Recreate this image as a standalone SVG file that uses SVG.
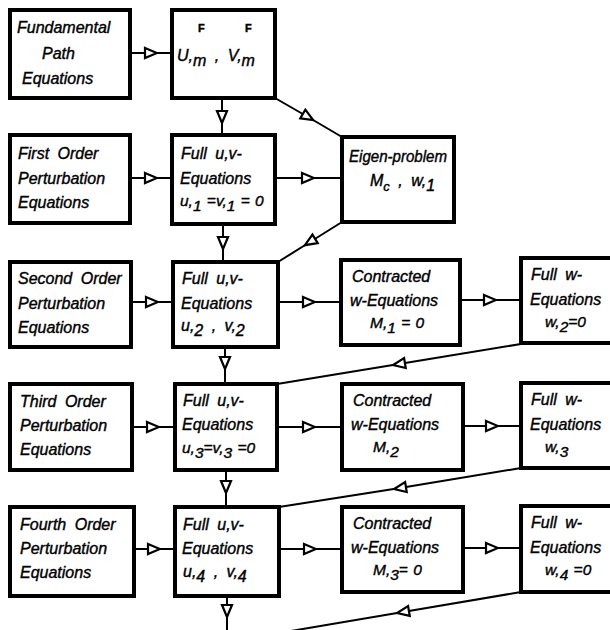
<svg xmlns="http://www.w3.org/2000/svg" width="610" height="630" viewBox="0 0 610 630">
<style>
.box{fill:#fff;stroke:#000;stroke-width:4}
.con{fill:none;stroke:#000;stroke-width:2;marker-mid:url(#tri)}
text{font-family:"Liberation Sans",Arial,sans-serif;font-style:italic;font-size:16px;fill:#000;stroke:#000;stroke-width:0.4;word-spacing:4px}
.m{word-spacing:1px;font-size:15.5px}
.sup{font-size:11px;font-weight:bold;font-style:normal}
</style>
<defs>
<marker id="tri" viewBox="0 0 16 14" refX="8" refY="7" markerWidth="16" markerHeight="14" markerUnits="userSpaceOnUse" orient="auto">
<path d="M2,2 L14,7 L2,12 Z" fill="#fff" stroke="#000" stroke-width="2.2"/>
</marker>
</defs>
<rect width="610" height="630" fill="#fff"/>
<g id="connectors">
<path class="con" d="M130,53 L151,53 L172,53"/>
<path class="con" d="M222,98 L222,117 L222,135"/>
<path class="con" d="M275,98 L308,117 L342,137"/>
<path class="con" d="M130,178 L151,178 L172,178"/>
<path class="con" d="M275,178 L308,178 L342,178"/>
<path class="con" d="M223,224 L223,243 L223,262"/>
<path class="con" d="M342,222 L310,242 L278,262"/>
<path class="con" d="M131,302 L152,302 L173,302"/>
<path class="con" d="M278,302 L309,302 L341,302"/>
<path class="con" d="M460,300 L490,300 L521,300"/>
<path class="con" d="M521,344 L399,364 L277,384"/>
<path class="con" d="M225,347 L225,363 L225,384"/>
<path class="con" d="M132,427 L153,427 L175,427"/>
<path class="con" d="M277,427 L309,427 L342,427"/>
<path class="con" d="M463,426 L492,426 L521,426"/>
<path class="con" d="M521,468 L400,488 L279,507"/>
<path class="con" d="M226,470 L226,487 L226,507"/>
<path class="con" d="M134,549 L154,549 L175,549"/>
<path class="con" d="M279,549 L310,549 L342,549"/>
<path class="con" d="M463,548 L492,548 L521,548"/>
<path class="con" d="M521,592 L403,612 L285,632"/>
<path class="con" d="M227,596 L227,611 L227,632"/>
</g>
<g id="n_fund">
<rect class="box" x="10" y="10" width="120" height="88"/>
<text x="17" y="33">Fundamental</text>
<text x="42" y="59">Path</text>
<text x="22" y="84">Equations</text>
</g>
<g id="n_uv_m">
<rect class="box" x="172" y="10" width="103" height="88"/>
<text class="sup" x="198" y="32">F</text>
<text class="sup" x="245" y="32">F</text>
<text x="177" y="61">U,<tspan dy="5">m</tspan><tspan dy="-5"> ,  V,</tspan><tspan dy="5">m</tspan></text>
</g>
<g id="n_first">
<rect class="box" x="10" y="135" width="120" height="88"/>
<text x="18" y="159">First Order</text>
<text x="18" y="184">Perturbation</text>
<text x="18" y="208">Equations</text>
</g>
<g id="n_full1">
<rect class="box" x="172" y="135" width="103" height="89"/>
<text x="181" y="159">Full u,v-</text>
<text x="180" y="184">Equations</text>
<text class="m" x="180" y="206">u,<tspan dy="5">1</tspan><tspan dy="-5"> =v,</tspan><tspan dy="5">1</tspan><tspan dy="-5"> = 0</tspan></text>
</g>
<g id="n_eigen">
<rect class="box" x="342" y="137" width="112" height="85"/>
<text x="349" y="162" textLength="98" lengthAdjust="spacingAndGlyphs">Eigen-problem</text>
<text x="370" y="186">M<tspan dy="5" font-size="13">c</tspan><tspan dy="-5">  ,  w,</tspan><tspan dy="5">1</tspan></text>
</g>
<g id="n_second">
<rect class="box" x="10" y="262" width="121" height="85"/>
<text x="18" y="284">Second Order</text>
<text x="18" y="309">Perturbation</text>
<text x="18" y="333">Equations</text>
</g>
<g id="n_full2">
<rect class="box" x="173" y="262" width="105" height="85"/>
<text x="182" y="284">Full u,v-</text>
<text x="181" y="309">Equations</text>
<text x="181" y="331">u,<tspan dy="5">2</tspan><tspan dy="-5">  ,  v,</tspan><tspan dy="5">2</tspan></text>
</g>
<g id="n_contr1">
<rect class="box" x="341" y="260" width="119" height="85"/>
<text x="352" y="282">Contracted</text>
<text x="350" y="306">w-Equations</text>
<text class="m" x="370" y="328">M,<tspan dy="5">1</tspan><tspan dy="-5"> = 0</tspan></text>
</g>
<g id="n_fullw2">
<rect class="box" x="521" y="258" width="110" height="85"/>
<text x="531" y="280">Full w-</text>
<text x="530" y="305">Equations</text>
<text class="m" x="545" y="327">w,<tspan dy="5">2</tspan><tspan dy="-5">=0</tspan></text>
</g>
<g id="n_third">
<rect class="box" x="10" y="384" width="122" height="86"/>
<text x="20" y="407">Third Order</text>
<text x="20" y="431">Perturbation</text>
<text x="20" y="455">Equations</text>
</g>
<g id="n_full3">
<rect class="box" x="175" y="384" width="102" height="86"/>
<text x="183" y="406">Full u,v-</text>
<text x="182" y="430">Equations</text>
<text class="m" x="182" y="453">u,<tspan dy="5">3</tspan><tspan dy="-5">=v,</tspan><tspan dy="5">3</tspan><tspan dy="-5"> =0</tspan></text>
</g>
<g id="n_contr2">
<rect class="box" x="342" y="384" width="121" height="86"/>
<text x="353" y="406">Contracted</text>
<text x="351" y="430">w-Equations</text>
<text class="m" x="373" y="452">M,<tspan dy="5">2</tspan></text>
</g>
<g id="n_fullw3">
<rect class="box" x="521" y="383" width="110" height="85"/>
<text x="531" y="405">Full w-</text>
<text x="530" y="430">Equations</text>
<text class="m" x="545" y="452">w,<tspan dy="5">3</tspan></text>
</g>
<g id="n_fourth">
<rect class="box" x="10" y="507" width="124" height="89"/>
<text x="20" y="530">Fourth Order</text>
<text x="20" y="554">Perturbation</text>
<text x="20" y="578">Equations</text>
</g>
<g id="n_full4">
<rect class="box" x="175" y="507" width="104" height="89"/>
<text x="183" y="530">Full u,v-</text>
<text x="182" y="554">Equations</text>
<text x="183" y="577">u,<tspan dy="5">4</tspan><tspan dy="-5">  ,  v,</tspan><tspan dy="5">4</tspan></text>
</g>
<g id="n_contr3">
<rect class="box" x="342" y="507" width="121" height="85"/>
<text x="353" y="529">Contracted</text>
<text x="351" y="553">w-Equations</text>
<text class="m" x="373" y="575">M,<tspan dy="5">3</tspan><tspan dy="-5">= 0</tspan></text>
</g>
<g id="n_fullw4">
<rect class="box" x="521" y="506" width="110" height="86"/>
<text x="531" y="528">Full w-</text>
<text x="530" y="553">Equations</text>
<text class="m" x="545" y="575">w,<tspan dy="5">4</tspan><tspan dy="-5"> =0</tspan></text>
</g>
</svg>
